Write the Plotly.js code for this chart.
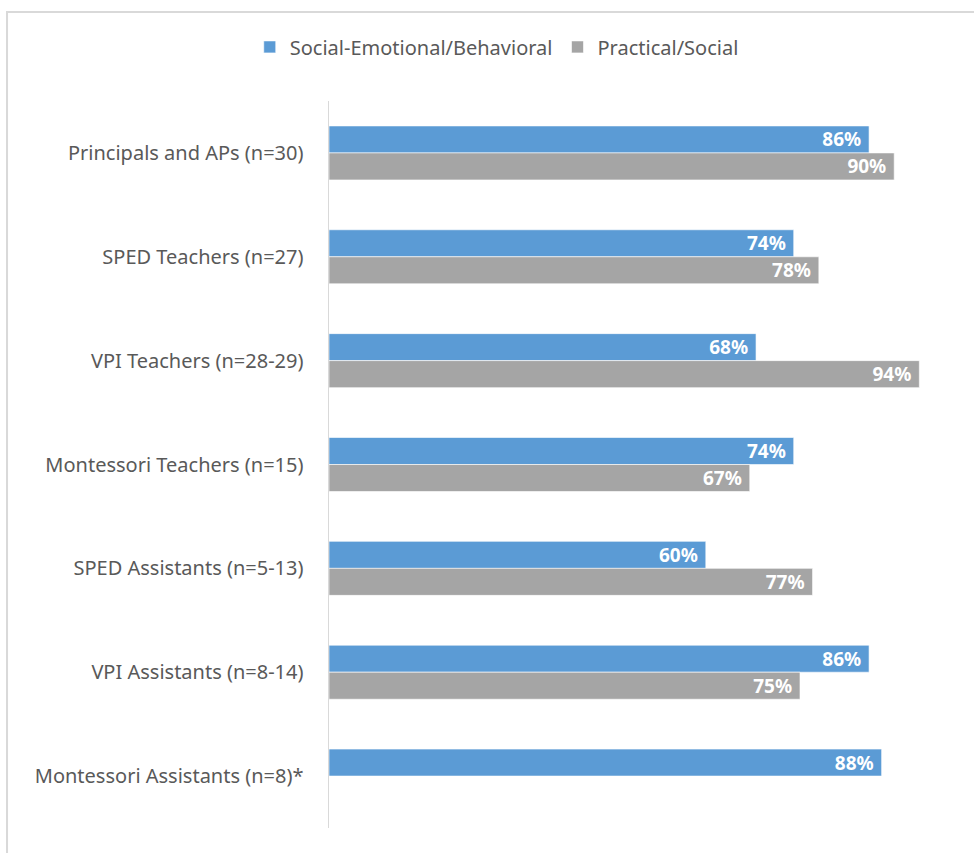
<!DOCTYPE html>
<html>
<head>
<meta charset="utf-8">
<script src="https://cdn.plot.ly/plotly-3.0.1.min.js"></script>
<style>html,body{margin:0;padding:0;background:#fff;}#chart{width:974px;height:853px;}</style>
</head>
<body>
<div id="chart"></div>
<script>
const categories = [
  "Principals and APs (n=30)",
  "SPED Teachers (n=27)",
  "VPI Teachers (n=28-29)",
  "Montessori Teachers (n=15)",
  "SPED Assistants (n=5-13)",
  "VPI Assistants (n=8-14)",
  "Montessori Assistants (n=8)*"
];
const seriesNames = ["Social-Emotional/Behavioral", "Practical/Social"];
const socialEmotional = [86, 74, 68, 74, 60, 86, 88];
const practicalSocial = [90, 78, 94, 67, 77, 75, null];
const colors = ["#5b9bd5", "#a5a5a5"];

function mk(vals, name, color) {
  return {
    type: "bar", orientation: "h", name: name,
    y: categories, x: vals,
    marker: {color: color, line: {color: "#ffffff", width: 0.6}},
    text: vals.map(v => v == null ? "" : v + "%\u00a0"),
    textposition: "inside", insidetextanchor: "end", constraintext: "none",
    textfont: {family: "Noto Sans, sans-serif", size: 19, color: "#ffffff", weight: "bold"},
    hoverinfo: "skip"
  };
}
const data = [
  mk(socialEmotional, seriesNames[0], colors[0]),
  mk(practicalSocial, seriesNames[1], colors[1])
];
const layout = {
  width: 974, height: 853,
  margin: {l: 329, r: 17, t: 101, b: 25, pad: 0, autoexpand: false},
  paper_bgcolor: "#ffffff", plot_bgcolor: "#ffffff",
  barmode: "group", bargap: 0.48, bargroupgap: 0,
  font: {family: "Noto Sans, sans-serif", color: "#595959"},
  showlegend: true,
  legend: {orientation: "h", x: 0.51, xanchor: "center", xref: "container", y: 0.945, yref: "container", yanchor: "middle",
           font: {size: 20, color: "#595959"}, traceorder: "normal", itemwidth: 30},
  xaxis: {range: [0, 100], showgrid: false, zeroline: false, showline: false, showticklabels: false, ticks: ""},
  yaxis: {autorange: "reversed", showgrid: false, zeroline: false, showline: true, linecolor: "#d9d9d9", linewidth: 1.5,
          ticks: "", ticklabelstandoff: 20, tickfont: {size: 20, color: "#595959"}},
  shapes: [{type: "rect", xref: "paper", yref: "paper", x0: -0.5127, x1: 2, y0: -1, y1: 1.1225,
            line: {color: "#d9d9d9", width: 2}, fillcolor: "rgba(0,0,0,0)", layer: "below"}]
};
Plotly.newPlot("chart", data, layout, {displayModeBar: false, staticPlot: true});
</script>
</body>
</html>
